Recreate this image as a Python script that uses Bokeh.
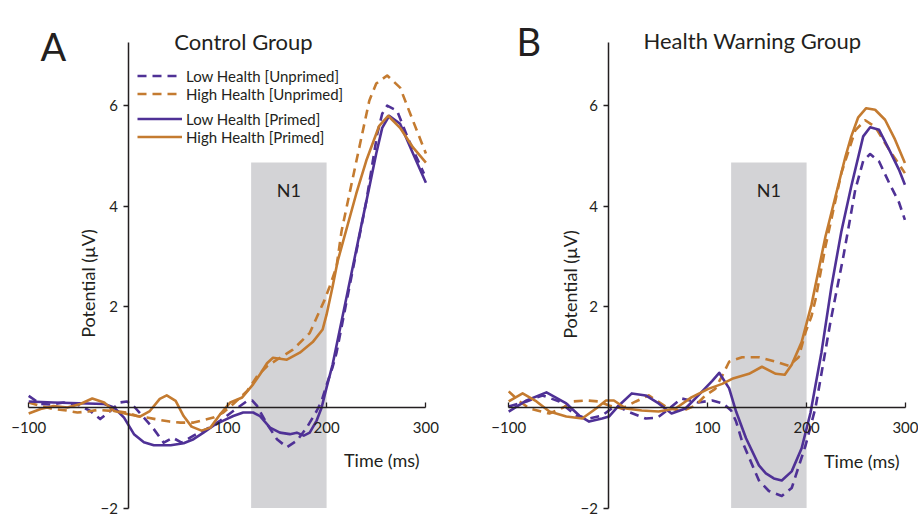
import math
from bokeh.plotting import figure
from bokeh.models import Range1d, LinearAxis, FixedTicker, Legend, LegendItem, Label
from bokeh.layouts import row
from bokeh.embed import file_html
from bokeh.resources import INLINE

PURPLE = "#4f3196"
ORANGE = "#c47b30"
INK = "#231f20"
FONT = "Lato"

series_labels = ["Low Health [Unprimed]", "High Health [Unprimed]",
                 "Low Health [Primed]", "High Health [Primed]"]
panel_titles = ["Control Group", "Health Warning Group"]
panel_letters = ["A", "B"]
x_ticks = [-100, 100, 200, 300]
y_ticks = [-2, 2, 4, 6]
n1_window = [124, 200]
n1_top = 4.87

# ---------------- Panel A: Control Group ----------------
a_low_unp_t = [-100, -88, -78, -65, -50, -38, -28, -18, -8, -1, 7, 16, 26, 36, 45, 54, 66, 79, 93,
               106, 120, 125, 130, 140, 150, 160, 170, 180, 190, 195, 200, 206, 210, 225, 240, 251,
               256, 261, 271, 283, 290, 298]
a_low_unp_v = [0.23, 0.07, 0.06, 0.1, 0.05, -0.07, -0.23, -0.07, 0.1, 0.12, 0.0, -0.2, -0.43, -0.7,
               -0.6, -0.7, -0.56, -0.43, -0.26, -0.07, 0.13, 0.14, 0.03, -0.33, -0.63, -0.79, -0.66,
               -0.4, -0.07, 0.13, 0.45, 0.8, 1.09, 2.6, 4.1, 5.44, 5.84, 6.0, 5.9, 5.3, 5.0, 4.65]

a_high_unp_t = [-100, -88, -75, -62, -51, -40, -31, -14, -1, 9, 19, 30, 42, 53, 66, 74, 86, 96,
                106, 120, 130, 140, 150, 166, 183, 198, 203, 210, 215, 230, 243, 250, 261, 274,
                287, 300]
a_high_unp_v = [0.1, 0.03, -0.03, -0.06, -0.1, -0.08, -0.05, -0.07, -0.1, -0.17, -0.2, -0.24, -0.28,
                -0.3, -0.3, -0.26, -0.2, -0.1, 0.07, 0.33, 0.62, 0.82, 0.95, 1.15, 1.48, 2.14, 2.4,
                2.8, 3.5, 4.9, 6.1, 6.44, 6.6, 6.36, 5.7, 5.05]

a_low_pri_t = [-100, -75, -41, -24, -14, -4, 6, 16, 26, 43, 56, 66, 76, 86, 96, 106, 116, 126, 133,
               143, 153, 163, 170, 177, 183, 190, 195, 200, 206, 221, 236, 243, 250, 256, 263, 274,
               287, 300]
a_low_pri_v = [0.12, 0.1, 0.08, 0.07, 0.0, -0.2, -0.53, -0.69, -0.75, -0.75, -0.71, -0.63, -0.5,
               -0.36, -0.26, -0.17, -0.1, -0.1, -0.17, -0.4, -0.5, -0.53, -0.5, -0.56, -0.5, -0.26,
               0.0, 0.4, 0.85, 2.28, 3.72, 4.38, 5.05, 5.56, 5.8, 5.64, 5.05, 4.47]

a_high_pri_t = [-100, -88, -75, -61, -48, -36, -24, -14, -1, 12, 22, 32, 39, 48, 56, 64, 74, 83, 93,
                103, 115, 126, 133, 140, 146, 153, 160, 173, 186, 196, 200, 206, 211, 230, 240,
                253, 262, 274, 287, 300]
a_high_pri_v = [-0.12, -0.03, 0.03, 0.0, 0.07, 0.18, 0.1, -0.07, -0.13, -0.18, -0.07, 0.17, 0.24,
                0.13, -0.17, -0.38, -0.46, -0.4, -0.13, 0.1, 0.2, 0.46, 0.66, 0.88, 0.99, 0.97, 0.95,
                1.09, 1.3, 1.55, 1.85, 2.4, 2.9, 4.26, 4.91, 5.6, 5.8, 5.56, 5.17, 4.87]

# ---------------- Panel B: Health Warning Group ----------------
b_low_unp_t = [-100, -82, -66, -49, -32, -19, -6, 8, 20, 38, 50, 58, 74, 91, 105, 116, 124, 129,
               135, 152, 162, 175, 185, 199, 209, 224, 237, 249, 257, 264, 273, 283, 293, 299]
b_low_unp_v = [0.02, 0.12, 0.24, 0.12, -0.16, -0.22, -0.16, 0.04, -0.08, -0.22, -0.2, -0.08, 0.18,
               0.1, 0.14, 0.08, -0.06, -0.28, -0.67, -1.45, -1.66, -1.76, -1.6, -0.75, 0.0, 1.7, 3.0,
               4.33, 4.9, 5.04, 4.89, 4.47, 4.08, 3.73]

b_high_unp_t = [-100, -89, -79, -59, -45, -36, -22, -9, 1, 14, 28, 41, 58, 74, 88, 98, 108, 115,
                122, 135, 152, 169, 182, 192, 199, 205, 209, 219, 235, 249, 259, 269, 283, 299]
b_high_unp_v = [0.32, 0.12, -0.02, -0.12, 0.0, 0.12, 0.14, 0.12, 0.04, -0.02, 0.12, 0.24, 0.02,
                -0.08, 0.04, 0.24, 0.37, 0.63, 0.91, 1.0, 1.0, 0.91, 0.83, 1.0, 1.5, 1.82, 2.15, 3.2,
                4.66, 5.51, 5.71, 5.58, 5.13, 4.66]

b_low_pri_t = [-100, -82, -62, -42, -29, -19, -6, 1, 11, 24, 38, 51, 64, 78, 91, 105, 112, 122,
               129, 139, 152, 159, 167, 175, 185, 195, 204, 215, 225, 235, 245, 257, 264, 273, 283,
               293, 299]
b_low_pri_v = [-0.08, 0.14, 0.3, 0.08, -0.16, -0.28, -0.22, -0.18, 0.04, 0.28, 0.24, 0.08, -0.12,
               -0.02, 0.24, 0.53, 0.69, 0.38, -0.08, -0.61, -1.15, -1.31, -1.41, -1.45, -1.27, -0.81,
               -0.1, 1.1, 2.4, 3.5, 4.4, 5.39, 5.57, 5.52, 5.13, 4.73, 4.43]

b_high_pri_t = [-100, -86, -72, -59, -42, -26, -12, -2, 6, 18, 34, 51, 68, 84, 101, 115, 125, 142,
                155, 169, 178, 185, 195, 205, 219, 239, 245, 252, 260, 269, 279, 289, 299]
b_high_pri_v = [0.12, 0.28, 0.12, -0.08, -0.18, -0.22, -0.02, 0.14, 0.14, -0.02, -0.06, -0.08,
                -0.02, 0.2, 0.37, 0.47, 0.57, 0.67, 0.81, 0.67, 0.65, 0.85, 1.3, 2.05, 3.4, 4.98,
                5.39, 5.77, 5.95, 5.92, 5.72, 5.33, 4.86]

styles = [(PURPLE, "9 6"), (ORANGE, "9 6"), (PURPLE, "solid"), (ORANGE, "solid")]

H = 516
Y_ORIGIN = 407.0   # page px of v = 0
Y_SCALE = 50.3     # px per µV


def make_panel(idx, left_page, width, x_origin, x_scale, series, layout):
    def dx(px):
        return (px - x_origin) / x_scale

    def dy(py):
        return (Y_ORIGIN - py) / Y_SCALE

    p = figure(width=width, height=H, output_backend="svg", toolbar_location=None,
               x_axis_location=None, y_axis_location=None, min_border=0,
               x_range=Range1d(dx(left_page), dx(left_page + width)),
               y_range=Range1d(dy(H), dy(0)))
    p.outline_line_color = None
    p.background_fill_color = "white"
    p.border_fill_color = "white"
    p.grid.visible = False

    # N1 window
    p.quad(left=[n1_window[0]], right=[n1_window[1]], bottom=[y_ticks[0]], top=[n1_top],
           fill_color="#d3d3d6", line_color=None)

    renderers = []
    for (t, v), (col, dash) in zip(series, styles):
        r = p.line(t, v, line_color=col, line_width=2.6, line_dash=dash, line_join="round")
        renderers.append(r)

    xaxis = LinearAxis(fixed_location=0, bounds=(-100, 300), ticker=FixedTicker(ticks=x_ticks),
                       major_tick_in=5, major_tick_out=0, minor_tick_in=0, minor_tick_out=0,
                       axis_line_color=INK, axis_line_width=1.5, major_tick_line_color=INK,
                       major_tick_line_width=1.3, major_label_standoff=14,
                       major_label_text_font=FONT, major_label_text_font_size="15px",
                       major_label_text_color=INK)
    yaxis = LinearAxis(fixed_location=0, bounds=(-2, 7.25), ticker=FixedTicker(ticks=y_ticks),
                       major_tick_in=0, major_tick_out=5, minor_tick_in=0, minor_tick_out=0,
                       axis_line_color=INK, axis_line_width=1.5, major_tick_line_color=INK,
                       major_tick_line_width=1.3, major_label_standoff=5,
                       major_label_text_font=FONT, major_label_text_font_size="15px",
                       major_label_text_color=INK)
    p.add_layout(xaxis, "below")
    p.add_layout(yaxis, "left")

    L = layout
    p.add_layout(Label(x=dx(L["letter"][0]), y=dy(L["letter"][1]), text=panel_letters[idx],
                       text_font=FONT, text_font_size="38px", text_color=INK,
                       text_align="left", text_baseline="alphabetic"))
    p.add_layout(Label(x=dx(L["title"][0]), y=dy(L["title"][1]), text=panel_titles[idx],
                       text_font=FONT, text_font_size="22px", text_color=INK,
                       text_align="center", text_baseline="alphabetic"))
    p.add_layout(Label(x=dx(L["time"][0]), y=dy(L["time"][1]), text="Time (ms)",
                       text_font=FONT, text_font_size="18px", text_color=INK,
                       text_align="right", text_baseline="alphabetic"))
    p.add_layout(Label(x=dx(L["pot"][0]), y=dy(L["pot"][1]), text="Potential (µV)",
                       text_font=FONT, text_font_size="18px", text_color=INK, angle=math.pi / 2,
                       text_align="center", text_baseline="middle"))
    p.add_layout(Label(x=(n1_window[0] + n1_window[1]) / 2, y=dy(L["n1"]), text="N1",
                       text_font=FONT, text_font_size="18px", text_color=INK,
                       text_align="center", text_baseline="middle"))

    if idx == 0:
        for k, (items, top_page) in enumerate([(renderers[:2], 68.5), (renderers[2:], 111.5)]):
            leg = Legend(items=[LegendItem(label=series_labels[2 * k + j], renderers=[items[j]])
                                for j in range(2)],
                         location=(137 - left_page, H - top_page - 34),
                         glyph_width=45, glyph_height=17, label_height=17, label_standoff=4,
                         spacing=0, padding=0, margin=0, border_line_color=None,
                         background_fill_alpha=0, label_text_font=FONT,
                         label_text_font_size="15px", label_text_color=INK)
            p.add_layout(leg, "center")
    return p


series_a = [(a_low_unp_t, a_low_unp_v), (a_high_unp_t, a_high_unp_v),
            (a_low_pri_t, a_low_pri_v), (a_high_pri_t, a_high_pri_v)]
series_b = [(b_low_unp_t, b_low_unp_v), (b_high_unp_t, b_high_unp_v),
            (b_low_pri_t, b_low_pri_v), (b_high_pri_t, b_high_pri_v)]

layout_a = dict(letter=(40, 45), title=(243, 41), time=(419, 459), pot=(87, 283), n1=189)
layout_b = dict(letter=(516, 40), title=(752, 40), time=(899, 460), pot=(569, 284), n1=189)

pa = make_panel(0, 0, 459, 127.5, 0.993, series_a, layout_a)
pb = make_panel(1, 459, 459, 607.5, 0.993, series_b, layout_b)

page = row(pa, pb)
open("out.html", "w").write(file_html(page, INLINE))
